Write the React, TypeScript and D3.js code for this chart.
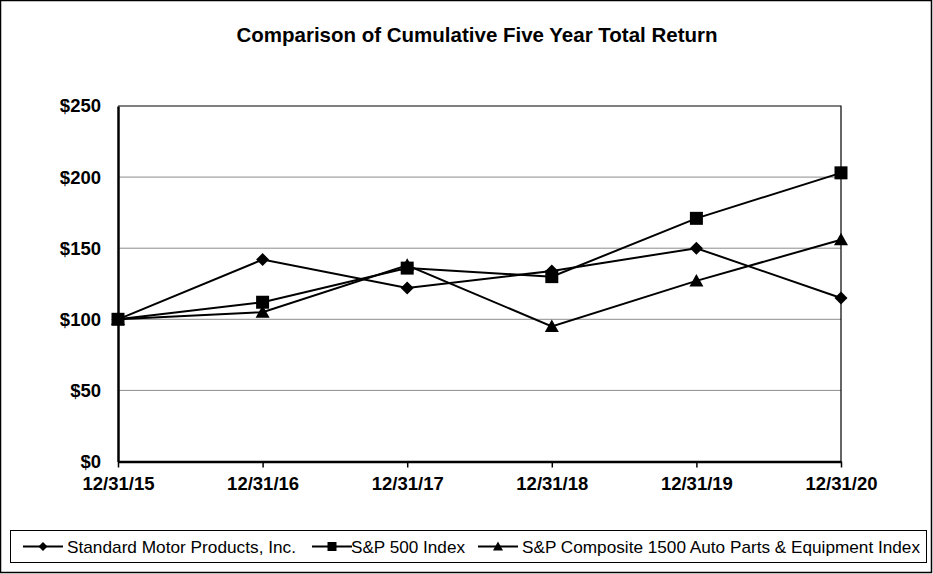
import React, { useEffect, useRef } from 'react';
import * as d3 from 'd3';

const dates = ['12/31/15', '12/31/16', '12/31/17', '12/31/18', '12/31/19', '12/31/20'];
const smpValues = [100, 142, 122, 134, 150, 115];
const sp500Values = [100, 112, 136, 130, 171, 203];
const autoValues = [100, 105, 138, 95, 127, 156];
const yTicks = [0, 50, 100, 150, 200, 250];

const seriesNames = [
  'Standard Motor Products, Inc.',
  'S&P 500 Index',
  'S&P Composite 1500 Auto Parts & Equipment Index',
];

type Shape = 'diamond' | 'square' | 'triangle';

// marker path centred on 0,0 with half-size r
const markerPath = (shape: Shape, r: number) => {
  if (shape === 'diamond') return `M0,${-r}L${r},0L0,${r}L${-r},0Z`;
  if (shape === 'square') return `M${-r},${-r}H${r}V${r}H${-r}Z`;
  return `M0,${-r}L${r},${r * 0.8}L${-r},${r * 0.8}Z`;
};

const App: React.FC = () => {
  const ref = useRef<SVGSVGElement | null>(null);

  useEffect(() => {
    if (!ref.current) return;
    d3.select(ref.current).selectAll('*').remove();

    const width = 933;
    const height = 574;
    const plot = { left: 118, right: 841, top: 106, bottom: 461.5 };
    const font = 'Arial, "Liberation Sans", sans-serif';

    const svg = d3.select(ref.current).attr('width', width).attr('height', height);

    svg.append('rect')
      .attr('x', 0).attr('y', 0).attr('width', width).attr('height', height)
      .attr('fill', '#fff');

    // outer frame
    svg.append('rect')
      .attr('x', 0.5).attr('y', 0.5).attr('width', width - 2).attr('height', height - 2)
      .attr('fill', 'none').attr('stroke', '#000').attr('stroke-width', 1.5);

    svg.append('text')
      .attr('x', 477).attr('y', 42)
      .attr('text-anchor', 'middle')
      .attr('font-family', font)
      .attr('font-weight', 'bold')
      .attr('font-size', 20.5)
      .text('Comparison of Cumulative Five Year Total Return');

    const x = d3.scalePoint<string>().domain(dates).range([plot.left, plot.right]);
    const y = d3.scaleLinear().domain([0, 250]).range([plot.bottom, plot.top]);

    // gridlines
    svg.selectAll('.grid')
      .data(yTicks.filter((t) => t > 0 && t < 250))
      .enter()
      .append('line')
      .attr('x1', plot.left).attr('x2', plot.right)
      .attr('y1', (d) => y(d)).attr('y2', (d) => y(d))
      .attr('stroke', '#8c8c8c').attr('stroke-width', 1);

    // top and right border
    svg.append('path')
      .attr('d', `M${plot.left},${plot.top}H${plot.right}V${plot.bottom}`)
      .attr('fill', 'none').attr('stroke', '#000').attr('stroke-width', 1.2);

    // y axis
    const yAxis = d3.axisLeft(y)
      .tickValues(yTicks)
      .tickFormat((d) => `$${d}`)
      .tickSize(0)
      .tickPadding(17);
    const gy = svg.append('g').attr('transform', `translate(${plot.left},0)`).call(yAxis);
    gy.select('.domain').attr('stroke', '#000').attr('stroke-width', 2.5);
    gy.selectAll('text')
      .attr('font-family', font)
      .attr('font-weight', 'bold')
      .attr('font-size', 18.5)
      .attr('fill', '#000');

    // x axis
    const xAxis = d3.axisBottom(x).tickSize(6).tickSizeOuter(0).tickPadding(9);
    const gx = svg.append('g').attr('transform', `translate(0,${plot.bottom})`).call(xAxis);
    gx.select('.domain').attr('stroke', '#000').attr('stroke-width', 2.5);
    gx.selectAll('line').attr('stroke', '#000').attr('stroke-width', 1.5);
    gx.selectAll('text')
      .attr('font-family', font)
      .attr('font-weight', 'bold')
      .attr('font-size', 18.5)
      .attr('fill', '#000');

    const series: { values: number[]; shape: Shape; r: number }[] = [
      { values: smpValues, shape: 'diamond', r: 6.5 },
      { values: sp500Values, shape: 'square', r: 6.5 },
      { values: autoValues, shape: 'triangle', r: 7 },
    ];

    const line = d3.line<number>()
      .x((_, i) => x(dates[i]) as number)
      .y((d) => y(d));

    series.forEach((s) => {
      svg.append('path')
        .datum(s.values)
        .attr('d', line)
        .attr('fill', 'none')
        .attr('stroke', '#000')
        .attr('stroke-width', 2);
      svg.selectAll(null)
        .data(s.values)
        .enter()
        .append('path')
        .attr('d', markerPath(s.shape, s.r))
        .attr('transform', (d, i) => `translate(${x(dates[i])},${y(d)})`)
        .attr('fill', '#000');
    });

    // legend
    svg.append('rect')
      .attr('x', 10.5).attr('y', 530.5).attr('width', 916).attr('height', 32)
      .attr('fill', 'none').attr('stroke', '#000').attr('stroke-width', 1);

    const legendItems = [
      { lineX: 23, textX: 67, textW: 229, shape: 'diamond' as Shape, r: 4.5 },
      { lineX: 312, textX: 351, textW: 114, shape: 'square' as Shape, r: 4.5 },
      { lineX: 478, textX: 522, textW: 398, shape: 'triangle' as Shape, r: 5 },
    ];
    const ly = 546.5;
    legendItems.forEach((item, i) => {
      svg.append('line')
        .attr('x1', item.lineX).attr('x2', item.lineX + 40)
        .attr('y1', ly).attr('y2', ly)
        .attr('stroke', '#000').attr('stroke-width', 2);
      svg.append('path')
        .attr('d', markerPath(item.shape, item.r))
        .attr('transform', `translate(${item.lineX + 20},${ly})`)
        .attr('fill', '#000');
      svg.append('text')
        .attr('x', item.textX).attr('y', ly + 6)
        .attr('font-family', font)
        .attr('font-size', 17)
        .attr('textLength', item.textW)
        .attr('lengthAdjust', 'spacingAndGlyphs')
        .text(seriesNames[i]);
    });
  }, []);

  return (
    <div style={{ position: 'fixed', left: 0, top: 0 }}>
      <svg ref={ref}></svg>
    </div>
  );
};

export default App;
